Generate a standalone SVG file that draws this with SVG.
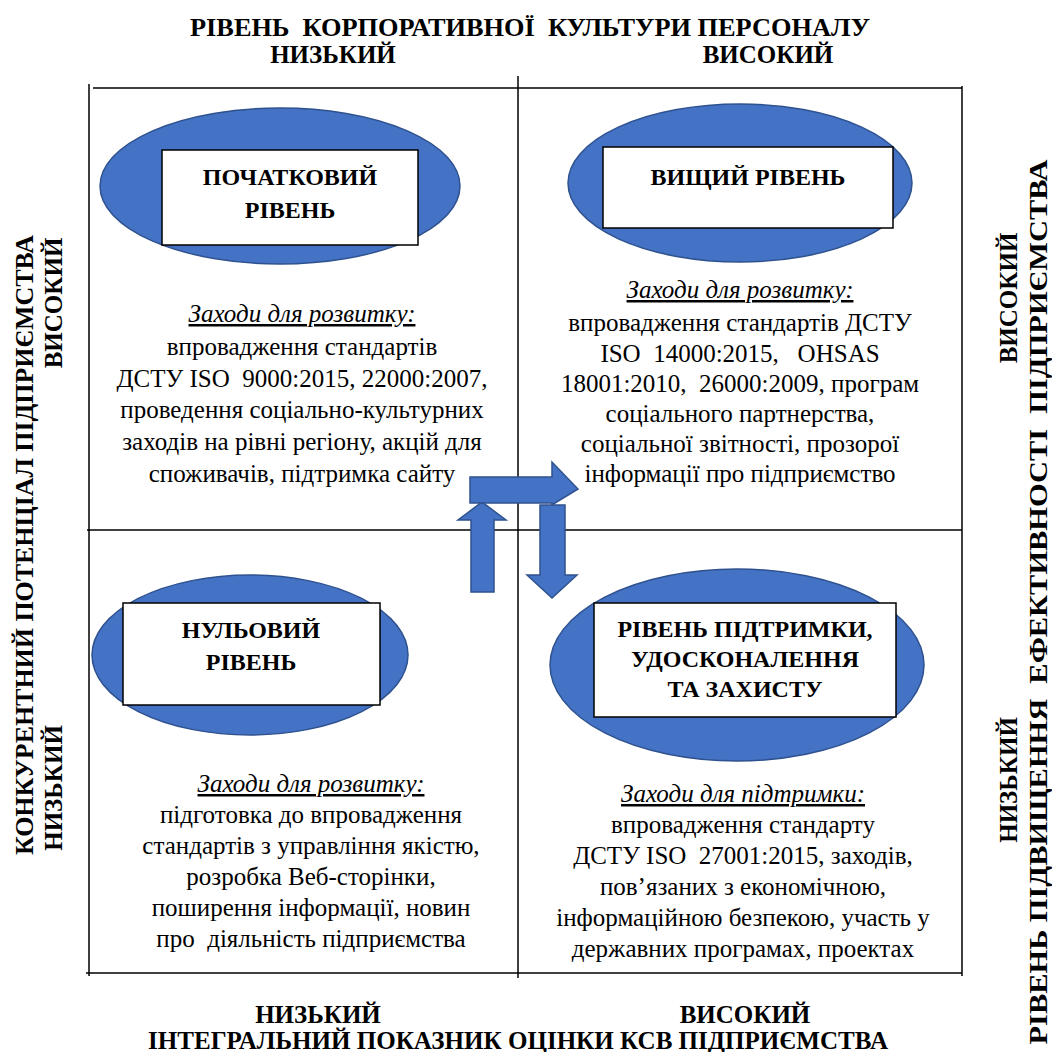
<svg xmlns="http://www.w3.org/2000/svg" width="1052" height="1052" viewBox="0 0 1052 1052">
<style>
.hdr{font-family:'Liberation Serif','Times New Roman',serif;font-weight:bold;font-size:25px;fill:#000;text-anchor:middle}
.ttl{font-family:'Liberation Serif','Times New Roman',serif;font-weight:bold;font-size:24px;fill:#000;text-anchor:middle}
.body{font-family:'Liberation Serif','Times New Roman',serif;font-size:25px;fill:#000;text-anchor:middle}
.it{font-style:italic;text-decoration:underline}
.ell{fill:#4472C4;stroke:#2F528F;stroke-width:1.5}
.box{fill:#fff;stroke:#000;stroke-width:1.5}
.arr{fill:#4472C4;stroke:#2F528F;stroke-width:1.5;stroke-linejoin:miter}
.frame{stroke:#404040;stroke-width:2;fill:none}
.inner{stroke:#000;stroke-width:1.5;fill:none}
</style>
<rect width="1052" height="1052" fill="#fff"/>
<g id="axes">
<text class="hdr" x="530" y="36" textLength="680" lengthAdjust="spacingAndGlyphs" xml:space="preserve">РІВЕНЬ  КОРПОРАТИВНОЇ  КУЛЬТУРИ ПЕРСОНАЛУ</text>
<text class="hdr" x="333" y="63">НИЗЬКИЙ</text>
<text class="hdr" x="768" y="63">ВИСОКИЙ</text>
<text class="hdr" x="318" y="1023">НИЗЬКИЙ</text>
<text class="hdr" x="745" y="1023">ВИСОКИЙ</text>
<text class="hdr" x="518" y="1049" textLength="740" lengthAdjust="spacingAndGlyphs">ІНТЕГРАЛЬНИЙ ПОКАЗНИК ОЦІНКИ КСВ ПІДПРИЄМСТВА</text>
<text class="hdr" transform="translate(33,545) rotate(-90)" x="0" y="0" textLength="620" lengthAdjust="spacingAndGlyphs">КОНКУРЕНТНИЙ ПОТЕНЦІАЛ ПІДПРИЄМСТВА</text>
<text class="hdr" transform="translate(62,303) rotate(-90)" x="0" y="0">ВИСОКИЙ</text>
<text class="hdr" transform="translate(62,788) rotate(-90)" x="0" y="0">НИЗЬКИЙ</text>
<text class="hdr" transform="translate(1047,602) rotate(-90)" x="0" y="0" textLength="885" lengthAdjust="spacingAndGlyphs" xml:space="preserve">РІВЕНЬ ПІДВИЩЕННЯ  ЕФЕКТИВНОСТІ  ПІДПРИЄМСТВА</text>
<text class="hdr" transform="translate(1017,298) rotate(-90)" x="0" y="0">ВИСОКИЙ</text>
<text class="hdr" transform="translate(1017,780) rotate(-90)" x="0" y="0">НИЗЬКИЙ</text>
</g>
<g id="grid">
<line class="frame" x1="89" y1="84" x2="89" y2="976"/>
<line class="frame" x1="962" y1="86" x2="962" y2="976"/>
<line class="frame" x1="518" y1="76" x2="518" y2="978"/>
<line class="inner" x1="93" y1="88" x2="962" y2="88"/>
<line class="inner" x1="87" y1="530" x2="962" y2="530"/>
<line class="inner" x1="86" y1="973" x2="962" y2="973"/>
</g>
<g id="node-initial">
<ellipse class="ell" cx="280" cy="186" rx="180" ry="78"/>
<rect class="box" x="162" y="150" width="256" height="95"/>
<text class="ttl" x="290" y="185">ПОЧАТКОВИЙ</text>
<text class="ttl" x="290" y="218">РІВЕНЬ</text>
<text class="body it" x="302" y="322">Заходи для розвитку:</text>
<text class="body" x="302" y="355">впровадження стандартів</text>
<text class="body" x="302" y="387" xml:space="preserve">ДСТУ ISO  9000:2015, 22000:2007,</text>
<text class="body" x="302" y="418">проведення соціально-культурних</text>
<text class="body" x="302" y="450">заходів на рівні регіону, акцій для</text>
<text class="body" x="302" y="482">споживачів, підтримка сайту</text>
</g>
<g id="node-highest">
<ellipse class="ell" cx="740" cy="183" rx="172" ry="79"/>
<rect class="box" x="603" y="147" width="290" height="81"/>
<text class="ttl" x="748" y="185">ВИЩИЙ РІВЕНЬ</text>
<text class="body it" x="740" y="298">Заходи для розвитку:</text>
<text class="body" x="740" y="331">впровадження стандартів ДСТУ</text>
<text class="body" x="740" y="362" xml:space="preserve">ISO  14000:2015,   OHSAS</text>
<text class="body" x="740" y="392" xml:space="preserve">18001:2010,  26000:2009, програм</text>
<text class="body" x="740" y="422">соціального партнерства,</text>
<text class="body" x="740" y="452">соціальної звітності, прозорої</text>
<text class="body" x="740" y="482">інформації про підприємство</text>
</g>
<g id="node-zero">
<ellipse class="ell" cx="250" cy="655" rx="158" ry="80"/>
<rect class="box" x="123" y="603" width="257" height="102"/>
<text class="ttl" x="251" y="638">НУЛЬОВИЙ</text>
<text class="ttl" x="251" y="670">РІВЕНЬ</text>
<text class="body it" x="311" y="792">Заходи для розвитку:</text>
<text class="body" x="311" y="823">підготовка до впровадження</text>
<text class="body" x="311" y="854">стандартів з управління якістю,</text>
<text class="body" x="311" y="885">розробка Веб-сторінки,</text>
<text class="body" x="311" y="916">поширення інформації, новин</text>
<text class="body" x="311" y="947" xml:space="preserve">про  діяльність підприємства</text>
</g>
<g id="node-support">
<ellipse class="ell" cx="737" cy="665" rx="187" ry="96"/>
<rect class="box" x="594" y="603" width="302" height="114"/>
<text class="ttl" x="745" y="637">РІВЕНЬ ПІДТРИМКИ,</text>
<text class="ttl" x="745" y="667">УДОСКОНАЛЕННЯ</text>
<text class="ttl" x="745" y="697">ТА ЗАХИСТУ</text>
<text class="body it" x="743" y="802">Заходи для підтримки:</text>
<text class="body" x="743" y="833">впровадження стандарту</text>
<text class="body" x="743" y="864" xml:space="preserve">ДСТУ ISO  27001:2015, заходів,</text>
<text class="body" x="743" y="895">пов’язаних з економічною,</text>
<text class="body" x="743" y="926">інформаційною безпекою, участь у</text>
<text class="body" x="743" y="957">державних програмах, проектах</text>
</g>
<g id="connectors">
<polygon class="arr" points="471,592 471,520 458,520 482,502 506,520 494,520 494,592"/>
<polygon class="arr" points="470,477 552,477 552,462 578,489 552,505 552,503 470,503"/>
<polygon class="arr" points="540,505 565,505 565,575 577,575 552,598 527,575 540,575"/>
</g>
</svg>
